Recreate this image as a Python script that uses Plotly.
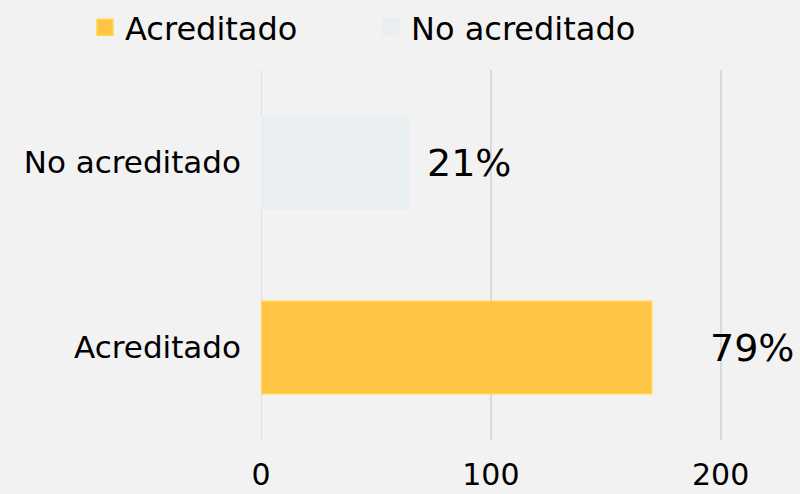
import plotly.graph_objects as go

categories = ["Acreditado", "No acreditado"]
values = [170, 64]
pct_labels = ["79%", "21%"]
colors = ["#FFC444", "#E9EEF1"]
border_colors = ["#FFD84D", "#E9EEF1"]
label_shift = [56, 17]
x_ticks = [0, 100, 200]

FONT = "DejaVu Sans"

fig = go.Figure()
for cat, val, col, bcol in zip(categories, values, colors, border_colors):
    fig.add_trace(go.Bar(
        y=[cat], x=[val], name=cat, orientation="h",
        marker=dict(color=col, line=dict(color=bcol, width=1.5)),
        width=0.5, hoverinfo="skip", showlegend=False,
    ))
# legend entries with larger square swatches, one legend box per entry
legend_ids = ["legend", "legend2"]
for cat, col, bcol, lid in zip(categories, colors, border_colors, legend_ids):
    fig.add_trace(go.Scatter(
        x=[None], y=[None], mode="markers", name=cat, legend=lid,
        marker=dict(symbol="square", size=20, color=col, line=dict(color=bcol, width=1.5)),
        hoverinfo="skip",
    ))

for cat, val, lab, sh in zip(categories, values, pct_labels, label_shift):
    fig.add_annotation(x=val, y=cat, text=lab, showarrow=False,
                       xanchor="left", yanchor="middle", xshift=sh,
                       font=dict(family=FONT, size=38, color="#000000"))

legend_common = dict(orientation="h", xref="container", xanchor="left",
                     yref="container", y=1.0, yanchor="top",
                     font=dict(family=FONT, size=32), bgcolor="rgba(0,0,0,0)")

fig.update_layout(
    width=800, height=494,
    paper_bgcolor="#F2F2F2", plot_bgcolor="#F2F2F2",
    margin=dict(l=261, r=12, t=70, b=54, autoexpand=False),
    barmode="overlay",
    font=dict(family=FONT, size=31, color="#000000"),
    showlegend=True,
    legend=dict(x=85/800, **legend_common),
    legend2=dict(x=371/800, **legend_common),
    xaxis=dict(range=[0, 229.3], tickvals=x_ticks, showgrid=True, gridcolor="#D9D9D9",
               gridwidth=1.5, zeroline=False, showline=False, automargin=False,
               tickfont=dict(family=FONT, size=30), ticklabelstandoff=14, fixedrange=True),
    yaxis=dict(categoryorder="array", categoryarray=categories, showgrid=False,
               zeroline=False, showline=False, ticklabelstandoff=19, automargin=False,
               tickfont=dict(family=FONT, size=31)),
)
fig.add_shape(type="line", xref="x", yref="paper", x0=0, x1=0, y0=0, y1=1,
              line=dict(color="#D9D9D9", width=1.5), layer="below")

fig.write_html("out.html", config={"displayModeBar": False},
               post_script="document.body.style.margin='0';document.body.style.background='#F2F2F2';")
